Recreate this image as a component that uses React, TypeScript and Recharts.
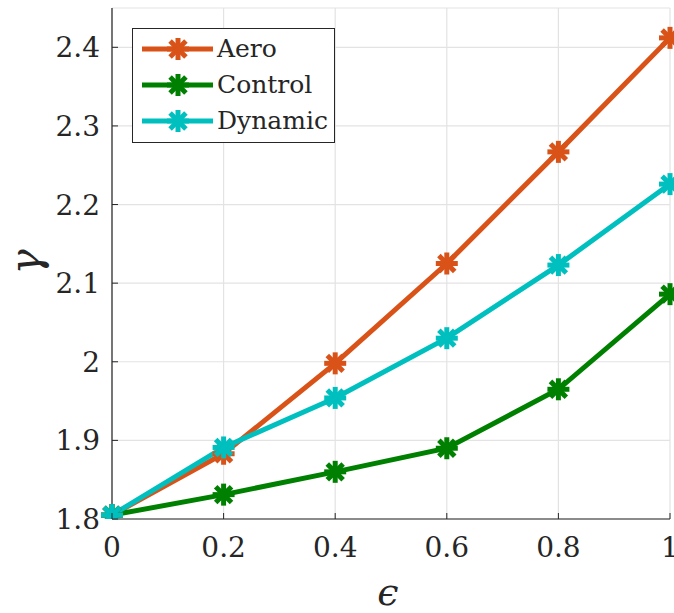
import React from "react"
import {
  LineChart,
  Line,
  XAxis,
  YAxis,
  CartesianGrid,
} from "recharts"

const EPS = [0, 0.2, 0.4, 0.6, 0.8, 1]
const AERO = [1.805, 1.883, 1.998, 2.125, 2.267, 2.412]
const CONTROL = [1.805, 1.831, 1.86, 1.89, 1.965, 2.086]
const DYNAMIC = [1.805, 1.891, 1.954, 2.03, 2.123, 2.226]

const X_TICKS = [0, 0.2, 0.4, 0.6, 0.8, 1]
const Y_TICKS = [1.8, 1.9, 2.0, 2.1, 2.2, 2.3, 2.4]

const SERIES = [
  { key: "aero", name: "Aero", color: "#D95319" },
  { key: "control", name: "Control", color: "#008000" },
  { key: "dynamic", name: "Dynamic", color: "#00BFBF" },
]

const data = EPS.map((e, i) => ({
  eps: e,
  aero: AERO[i],
  control: CONTROL[i],
  dynamic: DYNAMIC[i],
}))

const FONT = '"DejaVu Serif", "Liberation Serif", "Noto Serif", serif'
const INK = "#262626"

const fmt = (v: number) => String(Number(v.toFixed(1)))

// matlab-style '*' marker
function Asterisk({ cx, cy, color, r = 11 }: any) {
  if (cx == null || cy == null) return null
  const d = r * 0.72
  return (
    <g stroke={color} strokeWidth={5} strokeLinecap="butt">
      <line x1={cx - r} y1={cy} x2={cx + r} y2={cy} />
      <line x1={cx} y1={cy - r} x2={cx} y2={cy + r} />
      <line x1={cx - d} y1={cy - d} x2={cx + d} y2={cy + d} />
      <line x1={cx - d} y1={cy + d} x2={cx + d} y2={cy - d} />
    </g>
  )
}

const tickText = { fontFamily: FONT, fontSize: 28, fill: INK }

function YTick({ x, y, payload }: any) {
  return (
    <g>
      <text x={x} y={y} dy={10} textAnchor="end" style={tickText}>
        {fmt(payload.value)}
      </text>
      <line x1={x + 12} x2={x + 18} y1={y} y2={y} stroke={INK} strokeWidth={1} />
    </g>
  )
}

function XTick({ x, y, payload }: any) {
  return (
    <g>
      <text x={x} y={y} dy={26} textAnchor="middle" style={tickText}>
        {fmt(payload.value)}
      </text>
      <line x1={x} x2={x} y1={y - 12} y2={y - 18} stroke={INK} strokeWidth={1} />
    </g>
  )
}

function LegendBox() {
  return (
    <div
      style={{
        position: "absolute",
        left: 132,
        top: 28,
        width: 203,
        height: 115,
        boxSizing: "border-box",
        border: `1.5px solid ${INK}`,
        background: "#fff",
        paddingTop: 2,
      }}
    >
      {SERIES.map((s) => (
        <div key={s.key} style={{ display: "flex", alignItems: "center", height: 36 }}>
          <svg width={84} height={36} style={{ flex: "none" }}>
            <line x1={9} x2={80} y1={18} y2={18} stroke={s.color} strokeWidth={5} />
            <Asterisk cx={45} cy={18} color={s.color} />
          </svg>
          <span style={{ fontFamily: FONT, fontSize: 25, color: INK, lineHeight: "36px" }}>
            {s.name}
          </span>
        </div>
      ))}
    </div>
  )
}

export default function App() {
  return (
    <div style={{ position: "absolute", left: 0, top: 0, width: 674, height: 613, background: "#fff" }}>
      <LineChart
        width={674}
        height={613}
        data={data}
        margin={{ top: 8, right: 4, left: 0, bottom: 0 }}
      >
        <CartesianGrid stroke="#e3e3e3" strokeWidth={1.2} />
        <XAxis
          dataKey="eps"
          type="number"
          domain={[0, 1]}
          ticks={X_TICKS}
          height={94}
          tickLine={false}
          tickSize={6}
          tickMargin={6}
          axisLine={{ stroke: INK, strokeWidth: 1.2 }}
          tick={<XTick />}
          interval={0}
        />
        <XAxis
          xAxisId="top"
          orientation="top"
          type="number"
          domain={[0, 1]}
          ticks={X_TICKS}
          height={0}
          mirror
          tick={false}
          tickSize={6}
          tickLine={{ stroke: INK }}
          axisLine={{ stroke: INK, strokeWidth: 1.2 }}
        />
        <YAxis
          type="number"
          domain={[1.8, 2.45]}
          ticks={Y_TICKS}
          width={112}
          allowDataOverflow
          tickLine={false}
          tickSize={6}
          tickMargin={6}
          axisLine={{ stroke: INK, strokeWidth: 1.2 }}
          tick={<YTick />}
          interval={0}
        />
        <YAxis
          yAxisId="right"
          orientation="right"
          type="number"
          domain={[1.8, 2.45]}
          ticks={Y_TICKS}
          width={0}
          mirror
          tick={false}
          tickSize={6}
          tickLine={{ stroke: INK }}
          axisLine={{ stroke: INK, strokeWidth: 1.2 }}
        />
        {SERIES.map((s) => (
          <Line
            key={s.key}
            dataKey={s.key}
            name={s.name}
            stroke={s.color}
            strokeWidth={5}
            isAnimationActive={false}
            dot={(p: any) => <Asterisk key={`${s.key}-${p.index}`} cx={p.cx} cy={p.cy} color={s.color} />}
            activeDot={false}
          />
        ))}
      </LineChart>
      <LegendBox />
      <div
        style={{
          position: "absolute",
          left: 26,
          top: 262,
          transform: "translate(-50%, -50%) rotate(-90deg)",
          fontFamily: FONT,
          fontStyle: "italic",
          fontSize: 42,
          lineHeight: 1,
          color: INK,
        }}
      >
        γ
      </div>
      <div
        style={{
          position: "absolute",
          left: 388,
          top: 592,
          transform: "translate(-50%, -50%)",
          fontFamily: FONT,
          fontStyle: "italic",
          fontSize: 38,
          lineHeight: 1,
          color: INK,
        }}
      >
        ϵ
      </div>
    </div>
  )
}
